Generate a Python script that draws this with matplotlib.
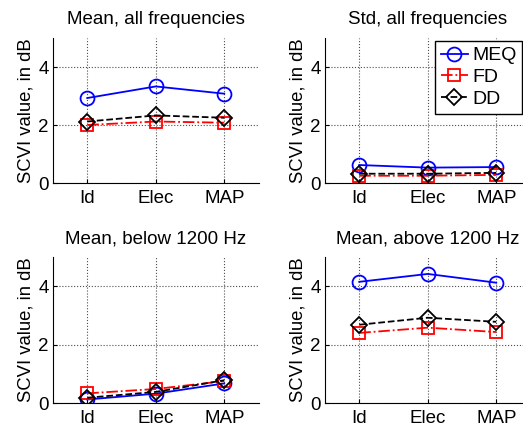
import matplotlib
matplotlib.use("Agg")
import matplotlib.pyplot as plt

plt.rcParams["font.family"] = ["Liberation Sans", "DejaVu Sans"]

conds = ["Id", "Elec", "MAP"]
titles = ["Mean, all frequencies", "Std, all frequencies",
          "Mean, below 1200 Hz", "Mean, above 1200 Hz"]

# MEQ, FD, DD for each panel
meq = [[2.93, 3.33, 3.08], [0.62, 0.53, 0.55], [0.12, 0.32, 0.67], [4.15, 4.42, 4.12]]
fd = [[2.00, 2.12, 2.08], [0.25, 0.25, 0.28], [0.33, 0.48, 0.75], [2.40, 2.58, 2.43]]
dd = [[2.12, 2.33, 2.25], [0.32, 0.32, 0.35], [0.18, 0.38, 0.78], [2.68, 2.92, 2.78]]

W, H = 523, 428
fig = plt.figure(figsize=(W / 100, H / 100), dpi=100)

# axes boxes in pixels: left, top(of y=5), bottom(of y=0)
boxes = [(53, 38, 183), (325, 38, 183), (53, 257, 403), (325, 257, 403)]
aw = 205.5

x = [1, 2, 3]
for i, (l, t, b) in enumerate(boxes):
    ax = fig.add_axes([l / W, (H - b) / H, aw / W, (b - t) / H])
    ax.plot(x, meq[i], "-", color="b", marker="o", mfc="none", ms=10,
            mew=1.3, lw=1.3, label="MEQ")
    ax.plot(x, fd[i], "-.", color="r", marker="s", mfc="none", ms=8,
            mew=1.3, lw=1.3, label="FD")
    ax.plot(x, dd[i], "--", color="k", marker="D", mfc="none", ms=8.5,
            mew=1.3, lw=1.3, label="DD")
    ax.set_xlim(0.5, 3.5)
    ax.set_ylim(0, 5)
    ax.set_xticks(x)
    ax.set_xticklabels(conds)
    ax.set_yticks([0, 2, 4])
    ax.tick_params(labelsize=13.5, direction="in", length=3)
    ax.tick_params(axis="x", pad=5)
    ax.tick_params(axis="y", pad=3)
    ax.grid(True, linestyle=":", color="0.3", lw=0.8)
    ax.spines["top"].set_visible(False)
    ax.spines["right"].set_visible(False)
    ax.set_ylabel("SCVI value, in dB", fontsize=13.3, labelpad=3)
    ax.set_title(titles[i], fontsize=13.5, pad=10)
    if i == 1:
        leg = ax.legend(loc="upper left", bbox_to_anchor=(0.535, 0.98),
                        fontsize=14, handlelength=1.4, handletextpad=0.2,
                        borderpad=0.3, labelspacing=0.22, fancybox=False,
                        framealpha=1, edgecolor="k", borderaxespad=0)
        leg.get_frame().set_linewidth(1.0)

fig.savefig("out.png", dpi=100)
